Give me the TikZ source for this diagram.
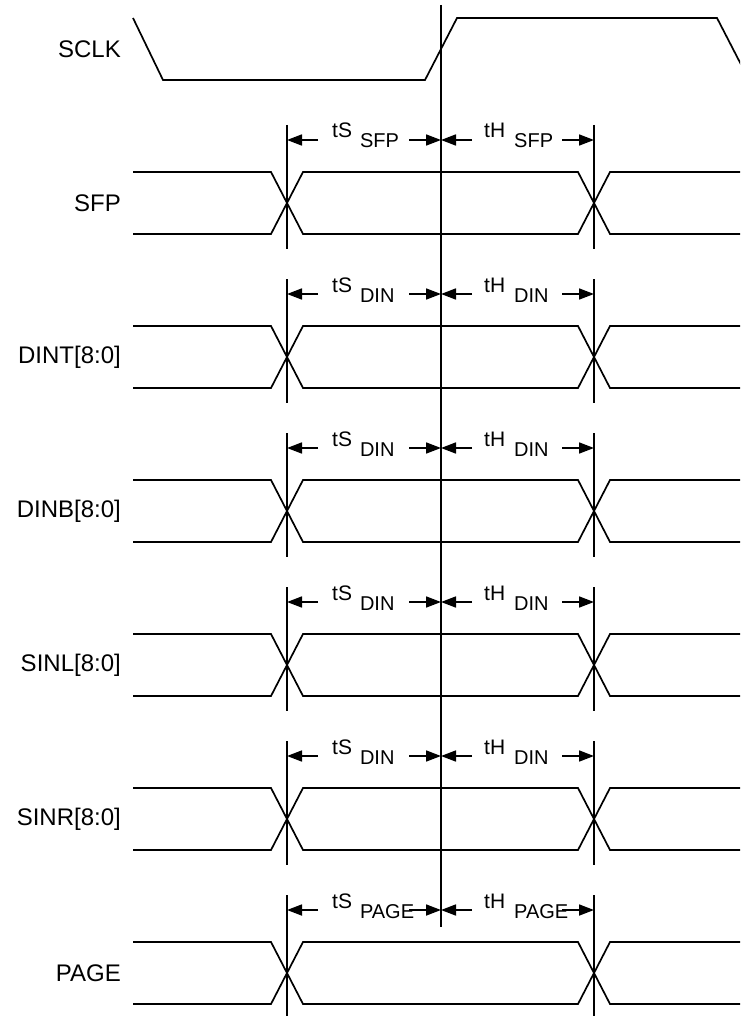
\documentclass[tikz,border=0pt]{standalone}
\usepackage{fontspec}
\setmainfont{Liberation Sans}
\usetikzlibrary{arrows.meta}
\newcommand{\subtxt}[1]{\raisebox{-10pt}{\fontsize{20}{23}\selectfont #1}}
\begin{document}
\begin{tikzpicture}[x=1pt,y=-1pt,
  wave/.style={line width=1.7pt, line join=miter},
  markline/.style={line width=1.7pt},
  dimarrow/.style={line width=1.7pt, -{Triangle[length=15pt,width=11pt]}},
  siglabel/.style={anchor=east, font=\fontsize{24}{28}\selectfont, inner sep=0pt},
  timelabel/.style={anchor=base west, font=\fontsize{21}{24}\selectfont, inner sep=0pt}]
\useasboundingbox (0,0) rectangle (740,1016);
\begin{scope}
\clip (0,0) rectangle (740,1016);
% SCLK
\node[siglabel] (lSCLK) at (121,49) {SCLK};
\draw[wave] (133,18) -- (163,80) -- (425,80) -- (457,18) -- (717,18) -- (749,80);
\coordinate (ck) at (441,5);
\coordinate (ckb) at (441,927);
\draw[markline] (ck) -- (ckb);
\foreach \i/\lab/\sub in {0/SFP/SFP,1/DINT[8:0]/DIN,2/DINB[8:0]/DIN,3/SINL[8:0]/DIN,4/SINR[8:0]/DIN,5/PAGE/PAGE}{
  \pgfmathsetmacro\c{203+154*\i}
  \node[siglabel] (l\i) at (121,\c) {\lab};
  \draw[wave] (133,\c-31) -- (271,\c-31) -- (303,\c+31) -- (578,\c+31) -- (610,\c-31) -- (740,\c-31);
  \draw[wave] (133,\c+31) -- (271,\c+31) -- (303,\c-31) -- (578,\c-31) -- (610,\c+31) -- (740,\c+31);
  \coordinate (s\i) at (287,\c-78);
  \coordinate (sb\i) at (287,\c+46);
  \coordinate (h\i) at (594,\c-78);
  \coordinate (hb\i) at (594,\c+46);
  \draw[markline] (s\i) -- (sb\i);
  \draw[markline] (h\i) -- (hb\i);
  \coordinate (a\i) at (287,\c-63);
  \coordinate (m\i) at (441,\c-63);
  \coordinate (e\i) at (594,\c-63);
  \coordinate (a1\i) at (318,\c-63);
  \coordinate (m1\i) at (409,\c-63);
  \coordinate (m2\i) at (472,\c-63);
  \coordinate (e1\i) at (562,\c-63);
  \draw[dimarrow] (a1\i) -- (a\i);
  \draw[dimarrow] (m1\i) -- (m\i);
  \draw[dimarrow] (m2\i) -- (m\i);
  \draw[dimarrow] (e1\i) -- (e\i);
  \node[timelabel] (ts\i) at (332,\c-65) {tS\hspace{8pt}\subtxt{\sub}};
  \node[timelabel] (th\i) at (484,\c-65) {tH\hspace{9pt}\subtxt{\sub}};
}
\end{scope}
\end{tikzpicture}
\end{document}
